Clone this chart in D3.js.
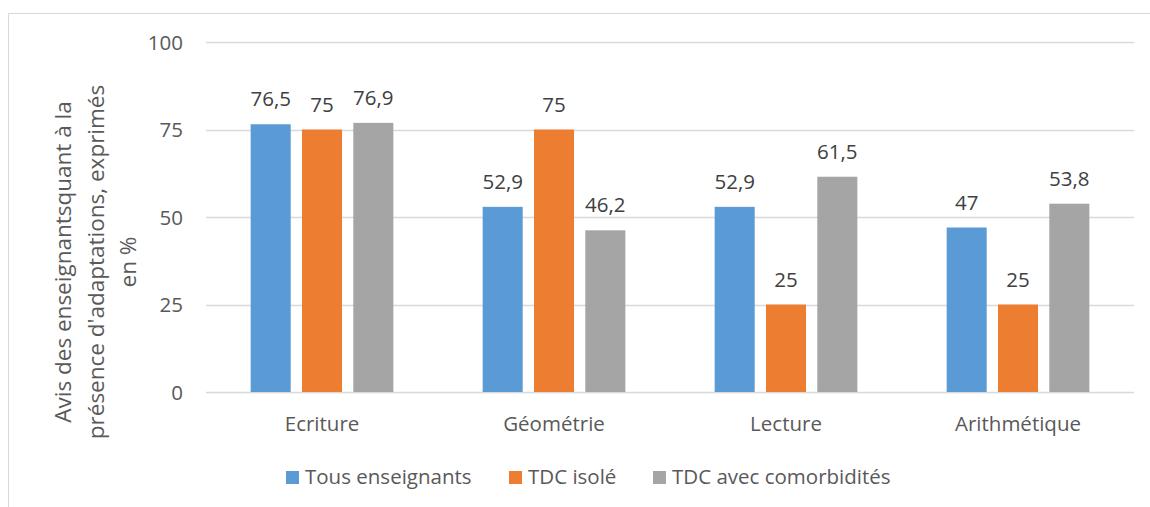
<!DOCTYPE html>
<html>
<head>
<meta charset="utf-8">
<script src="https://cdn.jsdelivr.net/npm/d3@7"></script>
<style>
  body { margin: 0; background: #fff; }
  svg text { font-family: "Open Sans", sans-serif; }
  .tick text { fill: #595959; font-size: 20.5px; }
  .value { fill: #404040; font-size: 20.5px; }
  .legend text { fill: #595959; font-size: 20.5px; }
  .ytitle { fill: #595959; font-size: 22.5px; }
</style>
</head>
<body>
<svg id="chart"></svg>
<script>
  //begin: data
  var categories = ["Ecriture", "Géométrie", "Lecture", "Arithmétique"];
  var seriesNames = ["Tous enseignants", "TDC isolé", "TDC avec comorbidités"];
  var seriesColors = ["#5b9bd5", "#ed7d31", "#a5a5a5"];
  var tousEnseignants = [76.5, 52.9, 52.9, 47];
  var tdcIsole = [75, 75, 25, 25];
  var tdcComorbidites = [76.9, 46.2, 61.5, 53.8];
  var yTicks = [0, 25, 50, 75, 100];
  var yTitleLines = ["Avis des enseignantsquant à la", "présence d'adaptations, exprimés", "en %"];
  //end: data

  var seriesValues = [tousEnseignants, tdcIsole, tdcComorbidites];

  //begin: layout conf.
  var svgWidth = 1150, svgHeight = 507,
      margin = {top: 42, right: 16, bottom: 115, left: 206},
      width = svgWidth - margin.left - margin.right,
      height = svgHeight - margin.top - margin.bottom;
  //end: layout conf.

  var svg = d3.select("#chart")
    .attr("width", svgWidth)
    .attr("height", svgHeight);

  // chart frame
  svg.append("rect")
    .attr("x", 8.5).attr("y", 13.5)
    .attr("width", svgWidth + 10).attr("height", svgHeight + 10)
    .attr("fill", "none")
    .attr("stroke", "#d9d9d9")
    .attr("stroke-width", 1);

  var g = svg.append("g")
    .attr("transform", "translate(" + [margin.left, margin.top] + ")");

  var x0 = d3.scaleBand()
    .domain(categories)
    .range([0, width])
    .paddingInner(0.385)
    .paddingOuter(0.1925);

  var x1 = d3.scaleBand()
    .domain(d3.range(seriesNames.length))
    .range([0, x0.bandwidth()])
    .paddingInner(0.22);

  var y = d3.scaleLinear()
    .domain([0, 100])
    .range([height, 0]);

  // gridlines
  g.append("g")
    .selectAll("line")
    .data(yTicks)
    .enter().append("line")
      .attr("x1", 0).attr("x2", width)
      .attr("y1", function(d){ return Math.round(y(d)) + 0.5; })
      .attr("y2", function(d){ return Math.round(y(d)) + 0.5; })
      .attr("stroke", "#d9d9d9")
      .attr("stroke-width", 1.3);

  // y axis labels
  var yAxis = g.append("g")
    .call(d3.axisLeft(y).tickValues(yTicks).tickSize(0).tickPadding(23));
  yAxis.select(".domain").remove();
  yAxis.selectAll("text").attr("dy", "0.36em");

  // x axis labels
  var xAxis = g.append("g")
    .attr("transform", "translate(0," + height + ")")
    .call(d3.axisBottom(x0).tickSize(0));
  xAxis.select(".domain").remove();
  xAxis.selectAll("text").attr("y", 39).attr("dy", 0);

  // bars
  var groups = g.selectAll(".group")
    .data(categories)
    .enter().append("g")
      .attr("class", "group")
      .attr("transform", function(d){ return "translate(" + x0(d) + ",0)"; });

  function cells(d, ci) {
    return seriesValues.map(function(vals, si){ return {si: si, v: vals[ci]}; });
  }

  groups.selectAll("rect")
    .data(cells)
    .enter().append("rect")
      .attr("x", function(d){ return x1(d.si); })
      .attr("y", function(d){ return y(d.v); })
      .attr("width", x1.bandwidth())
      .attr("height", function(d){ return height - y(d.v); })
      .attr("fill", function(d){ return seriesColors[d.si]; });

  groups.selectAll(".value")
    .data(cells)
    .enter().append("text")
      .attr("class", "value")
      .attr("text-anchor", "middle")
      .attr("x", function(d){ return x1(d.si) + x1.bandwidth()/2; })
      .attr("y", function(d){ return y(d.v) - 18; })
      .text(function(d){ return String(d.v).replace(".", ","); });

  // y title
  var yTitle = svg.append("text")
    .attr("class", "ytitle")
    .attr("text-anchor", "middle")
    .attr("transform", "translate(" + [71, 262] + ") rotate(-90)");
  yTitle.selectAll("tspan")
    .data(yTitleLines)
    .enter().append("tspan")
      .attr("x", 0)
      .attr("dy", function(d, i){ return i === 0 ? 0 : 32.5; })
      .text(function(d){ return d; });

  // legend
  var legendX = [286, 509, 653];
  var legend = svg.append("g")
    .attr("class", "legend")
    .selectAll("g")
    .data(seriesNames)
    .enter().append("g")
      .attr("transform", function(d, i){ return "translate(" + [legendX[i], 471] + ")"; });
  legend.append("rect")
    .attr("width", 13).attr("height", 13)
    .attr("fill", function(d, i){ return seriesColors[i]; });
  legend.append("text")
    .attr("x", 19).attr("y", 13)
    .text(function(d){ return d; });
</script>
</body>
</html>
